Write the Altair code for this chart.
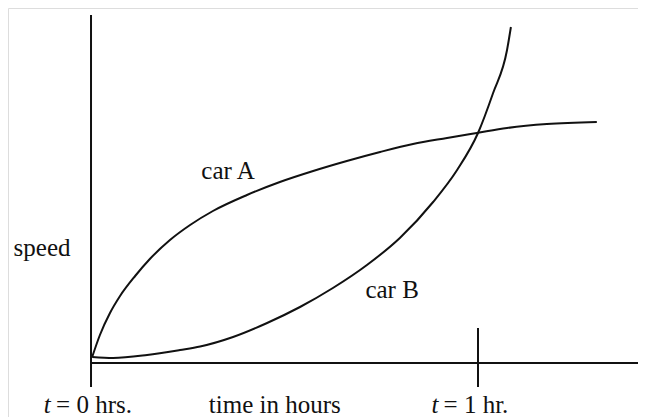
import altair as alt
import pandas as pd

# ---- data (time in hours, speed in arbitrary units) ----
car_a_t = [0.003, 0.023, 0.049, 0.075, 0.114, 0.152, 0.204, 0.256, 0.315, 0.403,
           0.488, 0.574, 0.661, 0.747, 0.832, 0.920, 0.997, 1.075, 1.178, 1.307]
car_a_speed = [0.6, 2.8, 5.0, 6.7, 8.7, 10.4, 12.3, 13.8, 15.2, 16.8,
               18.1, 19.2, 20.2, 21.1, 21.9, 22.5, 23.0, 23.5, 23.9, 24.1]

car_b_t = [0.003, 0.057, 0.145, 0.230, 0.282, 0.367, 0.455, 0.540, 0.625,
           0.713, 0.798, 0.884, 0.946, 1.0, 1.039, 1.075, 1.085]
car_b_speed = [0.6, 0.5, 0.8, 1.3, 1.65, 2.6, 4.0, 5.6, 7.5,
               9.8, 12.5, 16.1, 19.3, 23.0, 27.0, 31.3, 33.6]

curve_labels = ["car A", "car B"]
axis_label_y = "speed"
axis_label_x = "time in hours"
tick_labels = ["= 0 hrs.", "= 1 hr."]
tick_values = [0, 1]

rows = []
for t, s in zip(car_a_t, car_a_speed):
    rows.append({"t": t, "speed": s, "car": "car A"})
for t, s in zip(car_b_t, car_b_speed):
    rows.append({"t": t, "speed": s, "car": "car B"})
df = pd.DataFrame(rows)

W, H = 630, 409
x_scale = alt.Scale(domain=[-0.2145, 1.4134], nice=False, zero=False)
y_scale = alt.Scale(domain=[-5.4, 35.5], nice=False, zero=False)
FONT = "Liberation Serif"
FS = 25
INK = "#111111"

base = alt.Chart(df)

lines = base.mark_line(color=INK, strokeWidth=2, interpolate="monotone").encode(
    x=alt.X("t:Q", scale=x_scale, axis=None),
    y=alt.Y("speed:Q", scale=y_scale, axis=None),
    detail="car:N",
)

def rule(x, x2, y, y2=None):
    enc = dict(x=alt.datum(x, scale=x_scale), y=alt.datum(y, scale=y_scale))
    if x2 is not None:
        enc["x2"] = alt.datum(x2)
    if y2 is not None:
        enc["y2"] = alt.datum(y2)
    return alt.Chart().mark_rule(color=INK, strokeWidth=2).encode(**enc)

y_axis = rule(tick_values[0], None, -2.4, 34.8)
x_axis = rule(tick_values[0], 1.4134, 0)
tick_one = rule(tick_values[1], None, -2.4, 3.5)

def label(text, x, y, italic=False, align="center"):
    return alt.Chart().mark_text(
        text=text, font=FONT, fontSize=FS, color=INK, align=align,
        baseline="alphabetic", fontStyle="italic" if italic else "normal",
    ).encode(x=alt.datum(x, scale=x_scale), y=alt.datum(y, scale=y_scale))

BOTTOM = -5.0
texts = [
    label(axis_label_y, -0.1266, 10.7),
    label(curve_labels[0], 0.354, 18.4),
    label(curve_labels[1], 0.778, 6.5),
    label(axis_label_x, 0.475, BOTTOM),
    label("t", -0.113, BOTTOM, italic=True),
    label(tick_labels[0], -0.0904, BOTTOM, align="left"),
    label("t", 0.889, BOTTOM, italic=True),
    label(tick_labels[1], 0.911, BOTTOM, align="left"),
]

chart = alt.layer(lines, y_axis, x_axis, tick_one, *texts).properties(
    width=W, height=H,
    autosize=alt.AutoSizeParams(type="none"),
    padding=0,
).configure_view(stroke="transparent", strokeWidth=0).configure(background="white")

chart.save("out.html", embed_options={"renderer": "svg", "actions": False})
